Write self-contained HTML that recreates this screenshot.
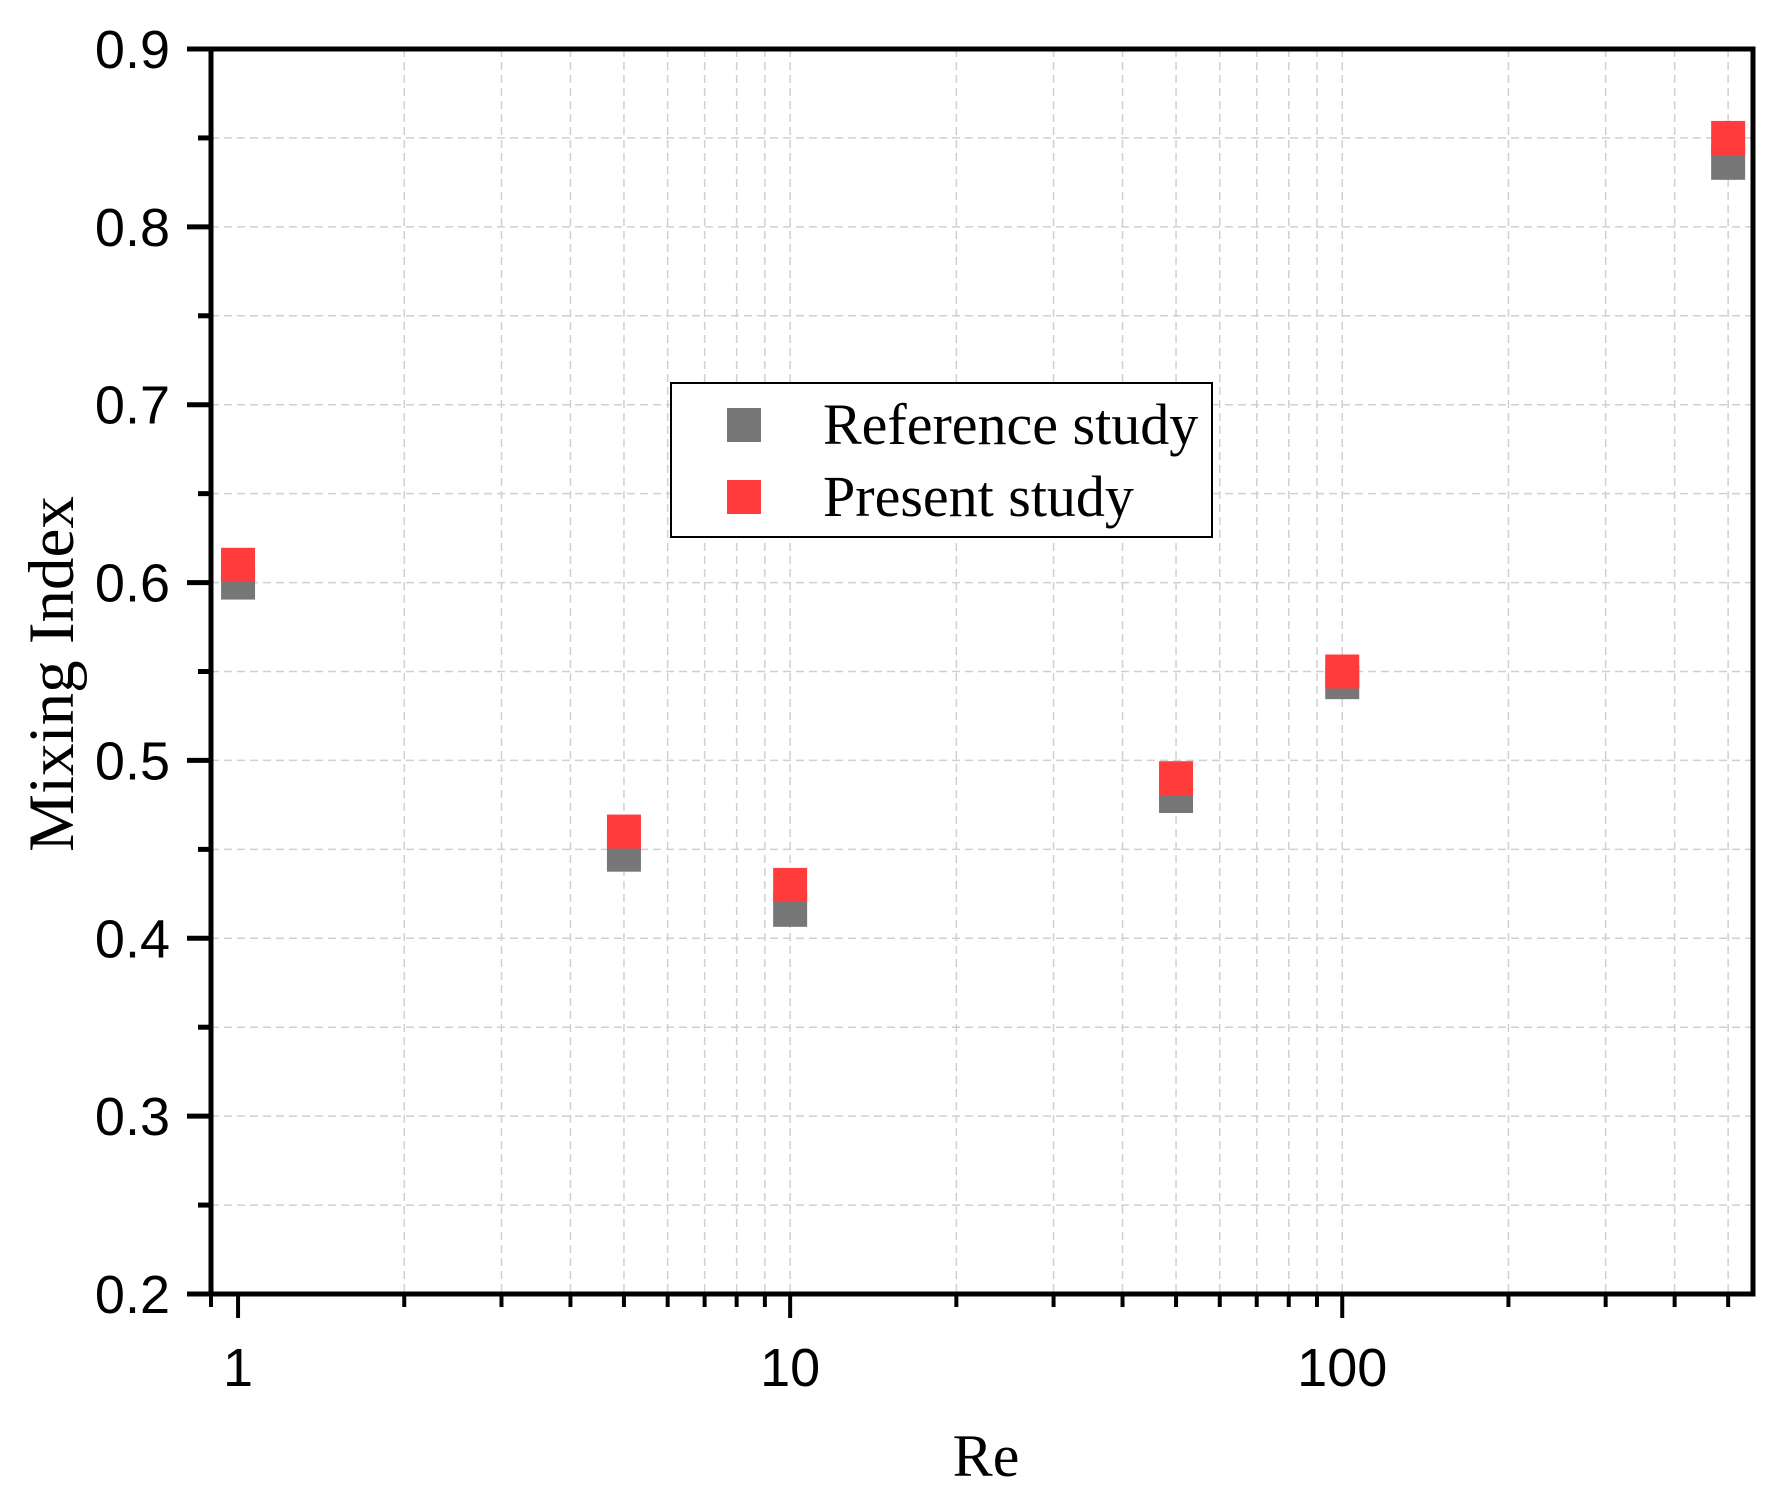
<!DOCTYPE html>
<html><head><meta charset="utf-8"><style>body{margin:0;background:#fff}svg{display:block}</style></head>
<body>
<svg id="chart" width="1783" height="1500" xmlns="http://www.w3.org/2000/svg"></svg>
<script>
const categories = [1, 5, 10, 50, 100, 500];
const referenceValues = [0.600, 0.447, 0.416, 0.480, 0.544, 0.836];
const presentValues = [0.610, 0.460, 0.430, 0.490, 0.550, 0.850];
const yTicks = [0.2, 0.3, 0.4, 0.5, 0.6, 0.7, 0.8, 0.9];
const xTickLabels = ["1", "10", "100"];

const NS = "http://www.w3.org/2000/svg";
const svg = document.getElementById('chart');
const L = 211, R = 1753, T = 49, B = 1294;
const xMin = -0.049, xMax = 2.744;
const yMin = 0.2, yMax = 0.9;
function xs(v){return L + (Math.log10(v) - xMin) / (xMax - xMin) * (R - L);}
function ys(v){return B - (v - yMin) / (yMax - yMin) * (B - T);}
function mk(tag, attrs, parent){const e=document.createElementNS(NS,tag);for(const k in attrs)e.setAttribute(k,attrs[k]);(parent||svg).appendChild(e);return e;}

const grid = mk('g', {});


const axes = mk('g', {});



for (let i = 0; i <= 14; i++) {
  const v = 0.2 + i * 0.05;
  const y = ys(v);
  const major = i % 2 === 0;
  if (i > 0 && i < 14) mk('line', {x1:L, x2:R, y1:y, y2:y, stroke:'#d0d0d0', 'stroke-width':1.5, 'stroke-dasharray':'8,5'}, grid);
  mk('line', {x1:L - (major ? 24 : 13), x2:L, y1:y, y2:y, stroke:'#000', 'stroke-width':5}, axes);
}
yTicks.forEach(v => {
  const t = mk('text', {x:170, y:ys(v) + 19, 'text-anchor':'end', 'font-family':'Liberation Sans, sans-serif', 'font-size':54}, axes);
  t.textContent = v.toFixed(1);
  
  
});
for (let d = 1; d <= 100; d *= 10) {
  for (let m = 1; m <= 9; m++) {
    const v = d * m;
    if (Math.log10(v) > xMax) continue;
    const x = xs(v);
    const major = m === 1;
    if (!major || v > 1) mk('line', {x1:x, x2:x, y1:T, y2:B, stroke:'#d0d0d0', 'stroke-width':1.5, 'stroke-dasharray':'8,5'}, grid);
    mk('line', {x1:x, x2:x, y1:B, y2:B + (major ? 24 : 13), stroke:'#000', 'stroke-width':4}, axes);
  }
}
mk('line', {x1:L, x2:L, y1:B, y2:B + 13, stroke:'#000', 'stroke-width':4}, axes);
xTickLabels.forEach(s => {
  const t = mk('text', {x:xs(parseFloat(s)), y:1386, 'text-anchor':'middle', 'font-family':'Liberation Sans, sans-serif', 'font-size':54}, axes);
  t.textContent = s;
  
  
});
mk('rect', {x:L, y:T, width:R - L, height:B - T, fill:'none', stroke:'#000', 'stroke-width':5}, axes);

const xt = mk('text', {x:986, y:1476, 'text-anchor':'middle', 'font-family':'Liberation Serif, serif', 'font-size':60});
xt.textContent = 'Re';


const yt = mk('text', {x:0, y:0, 'text-anchor':'middle', 'font-family':'Liberation Serif, serif', 'font-size':65, transform:'translate(73,674) rotate(-90)'});
yt.textContent = 'Mixing Index';



const S = 34;
categories.forEach((c, i) => {
  const r = mk('rect', {x:xs(c) - S/2, y:ys(referenceValues[i]) - S/2, width:S, height:S, fill:'#777777'});
  
  
});
categories.forEach((c, i) => {
  const r = mk('rect', {x:xs(c) - S/2, y:ys(presentValues[i]) - S/2, width:S, height:S, fill:'#ff3b3b'});
  
  
});

const lg = mk('g', {});


mk('rect', {x:671, y:383, width:541, height:154, fill:'#fff', stroke:'#000', 'stroke-width':2}, lg);
[['Reference study', '#777777', 425], ['Present study', '#ff3b3b', 497]].forEach(([label, col, y]) => {
  const m = mk('rect', {x:744 - S/2, y:y - S/2, width:S, height:S, fill:col}, lg);
  
  
  const t = mk('text', {x:823, y:y + 19, 'font-family':'Liberation Serif, serif', 'font-size':58}, lg);
  t.textContent = label;
  
  
});
</script>
</body></html>
